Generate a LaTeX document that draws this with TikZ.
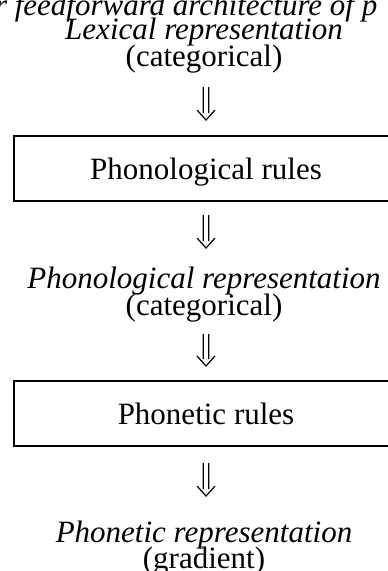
\documentclass[tikz,border=0pt]{standalone}
\usepackage{fontspec}
\setmainfont{Liberation Serif}
\usetikzlibrary{calc}
\begin{document}
\begin{tikzpicture}[x=1pt,y=1pt,
  every node/.style={inner sep=0pt, outer sep=0pt},
  txt/.style={font=\fontsize{31}{31}\selectfont, anchor=base},
  rep/.style={font=\fontsize{31}{31}\selectfont\itshape, anchor=base},
  rulebox/.style={draw, line width=2.6pt, minimum width=384pt, minimum height=65pt,
    text height=21pt, text depth=0pt, font=\fontsize{31}{31}\selectfont},
  % open double arrow pointing down, drawn between two coordinates
  dnarrow/.style={line width=1.2pt, to path={
    ($(\tikztostart)+(-2.8,0)$) -- ($(\tikztotarget)+(-2.8,6.9)$)
    ($(\tikztostart)+(2.8,0)$) -- ($(\tikztotarget)+(2.8,6.9)$)
    ($(\tikztotarget)+(-9,10)$) -- (\tikztotarget) -- ($(\tikztotarget)+(9,10)$)}}]
\useasboundingbox (0,0) rectangle (388,-571);

% caption line, running off the page
\node[rep, anchor=base west] (cap) at (-5,-15) {r feedforward architecture of p};

% levels of representation
\node[rep] (lex)     at (204,-39)  {Lexical representation};
\node[txt] (lexcat)  at (204,-66)  {(categorical)};
\node[rulebox] (phonrules) at (206,-168.5) {Phonological rules};
\node[rep] (phon)    at (204,-288) {Phonological representation};
\node[txt] (phoncat) at (204,-315) {(categorical)};
\node[rulebox] (phetrules) at (206,-413.5) {Phonetic rules};
\node[rep] (phet)    at (204,-542) {Phonetic representation};
\node[txt] (phetgrad) at (204,-568) {(gradient)};

% arrow end points
\coordinate (a1s) at (206,-87);  \coordinate (a1e) at (206,-120);
\coordinate (a2s) at (206,-215); \coordinate (a2e) at (206,-248);
\coordinate (a3s) at (206,-334); \coordinate (a3e) at (206,-366);
\coordinate (a4s) at (206,-463); \coordinate (a4e) at (206,-496);

\draw[dnarrow] (a1s) to (a1e);
\draw[dnarrow] (a2s) to (a2e);
\draw[dnarrow] (a3s) to (a3e);
\draw[dnarrow] (a4s) to (a4e);
\end{tikzpicture}
\end{document}
